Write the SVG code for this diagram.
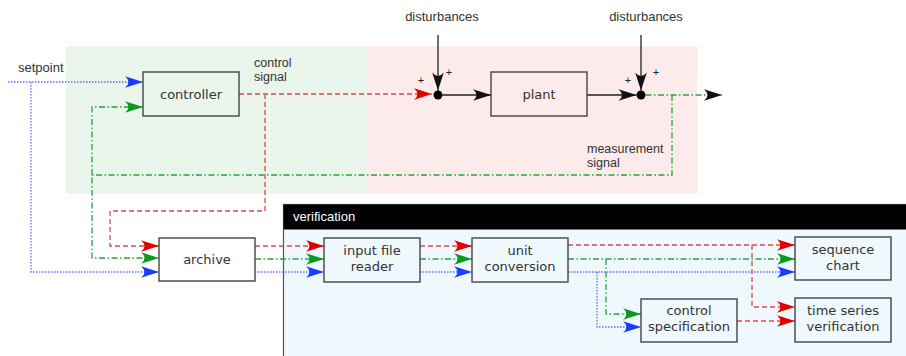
<svg xmlns="http://www.w3.org/2000/svg" width="906" height="356" viewBox="0 0 906 356">
<style>
.lbl{font-family:"Liberation Sans",Arial,sans-serif;font-size:13px;fill:#333}
.lb2{font-family:"Liberation Sans",Arial,sans-serif;font-size:12.5px;fill:#333}
.pl{font-family:"Liberation Sans",Arial,sans-serif;font-size:11px;fill:#222;text-anchor:middle}
.box{fill:none;stroke:#444;stroke-width:1.4}
.bt{font-family:"DejaVu Sans",sans-serif;font-size:13px;fill:#333;text-anchor:middle}
.red{fill:none;stroke:#e64545;stroke-width:1.3;stroke-dasharray:5,3}
.grn{fill:none;stroke:#1fa83c;stroke-width:1.3;stroke-dasharray:6,2.5,1.5,2.5}
.blu{fill:none;stroke:#5a6dff;stroke-width:1.3;stroke-dasharray:1.5,1.5}
.blk{fill:none;stroke:#222;stroke-width:1.3}
</style>
<defs>
<marker id="aR" viewBox="-19 -6 20 12" refX="0" refY="0" markerWidth="20" markerHeight="12" markerUnits="userSpaceOnUse" orient="auto"><path d="M0,0 L-18,-5.8 Q-11,0 -18,5.8 Z" fill="#e00000"/></marker>
<marker id="aG" viewBox="-19 -6 20 12" refX="0" refY="0" markerWidth="20" markerHeight="12" markerUnits="userSpaceOnUse" orient="auto"><path d="M0,0 L-18,-5.8 Q-11,0 -18,5.8 Z" fill="#0a9a1e"/></marker>
<marker id="aB" viewBox="-19 -6 20 12" refX="0" refY="0" markerWidth="20" markerHeight="12" markerUnits="userSpaceOnUse" orient="auto"><path d="M0,0 L-18,-5.8 Q-11,0 -18,5.8 Z" fill="#1a3cff"/></marker>
<marker id="aK" viewBox="-19 -6 20 12" refX="0" refY="0" markerWidth="20" markerHeight="12" markerUnits="userSpaceOnUse" orient="auto"><path d="M0,0 L-18,-5.8 Q-11,0 -18,5.8 Z" fill="#111"/></marker>
</defs>
<rect x="0" y="0" width="906" height="356" fill="#fff"/>
<rect x="66" y="46" width="302" height="148" fill="#eaf6ec"/>
<rect x="368" y="46" width="329" height="148" fill="#fdeaea"/>
<g id="verification">
<rect x="283.5" y="204.5" width="640" height="200" fill="#eef8fd" stroke="#555" stroke-width="1.2"/>
<rect x="283.5" y="204.5" width="640" height="25" fill="#000"/>
<text x="293" y="221" font-family="Liberation Sans,Arial,sans-serif" font-size="13" fill="#fff">verification</text>
</g>
<text class="lbl" x="18" y="72">setpoint</text>
<text class="lb2" x="254" y="67">control</text>
<text class="lb2" x="254" y="81">signal</text>
<text class="lb2" x="587" y="153">measurement</text>
<text class="lb2" x="587" y="167">signal</text>
<text class="lbl" x="442" y="21" text-anchor="middle">disturbances</text>
<text class="lbl" x="646" y="21" text-anchor="middle">disturbances</text>
<text class="pl" x="421" y="84">+</text><text class="pl" x="449" y="76">+</text>
<text class="pl" x="628" y="84">+</text><text class="pl" x="656" y="76">+</text>
<g id="connectors">
<path class="blu" d="M8,82 H143" marker-end="url(#aB)"/>
<path class="blu" d="M31,82 V272 H159" marker-end="url(#aB)"/>
<path class="red" d="M239,94 H432" marker-end="url(#aR)"/>
<path class="red" d="M265,94 V211 H110 V246 H159" marker-end="url(#aR)"/>
<path class="blk" d="M442.5,95 H491" marker-end="url(#aK)"/>
<path class="blk" d="M587,95 H636.5" marker-end="url(#aK)"/>
<path class="blk" d="M438,35 V90.5" marker-end="url(#aK)"/>
<path class="blk" d="M641,35 V90.5" marker-end="url(#aK)"/>
<path class="grn" d="M645.5,95 H722" marker-end="url(#aK)"/>
<path class="grn" d="M672,95 V175 H92 V258 H159" marker-end="url(#aG)"/>
<path class="grn" d="M92,175 V107 H143" marker-end="url(#aG)"/>
<path class="red" d="M255,246 H324" marker-end="url(#aR)"/>
<path class="grn" d="M255,259 H324" marker-end="url(#aG)"/>
<path class="blu" d="M255,272 H324" marker-end="url(#aB)"/>
<path class="red" d="M420,246 H472" marker-end="url(#aR)"/>
<path class="grn" d="M420,259 H472" marker-end="url(#aG)"/>
<path class="blu" d="M420,272 H472" marker-end="url(#aB)"/>
<path class="red" d="M568,245 H795" marker-end="url(#aR)"/>
<path class="grn" d="M568,259 H795" marker-end="url(#aG)"/>
<path class="blu" d="M568,272 H795" marker-end="url(#aB)"/>
<path class="red" d="M752,245 V307 H795" marker-end="url(#aR)"/>
<path class="grn" d="M606,259 V314 H641" marker-end="url(#aG)"/>
<path class="blu" d="M597,272 V327 H641" marker-end="url(#aB)"/>
<path class="red" d="M737,321 H795" marker-end="url(#aR)"/>
</g>
<g id="junction1"><circle cx="438" cy="95" r="4.5" fill="#000"/></g>
<g id="junction2"><circle cx="641" cy="95" r="4.5" fill="#000"/></g>
<g id="controller"><rect class="box" x="143" y="72" width="96" height="44"/><text class="bt" x="191" y="99">controller</text></g>
<g id="plant"><rect class="box" x="491" y="72" width="96" height="44"/><text class="bt" x="539" y="99">plant</text></g>
<g id="archive"><rect class="box" x="159" y="238" width="96" height="43"/><text class="bt" x="207" y="264">archive</text></g>
<g id="input-file-reader"><rect class="box" x="324" y="238" width="96" height="44"/><text class="bt" x="372" y="255">input file</text><text class="bt" x="372" y="271">reader</text></g>
<g id="unit-conversion"><rect class="box" x="472" y="238" width="96" height="44"/><text class="bt" x="520" y="255">unit</text><text class="bt" x="520" y="271">conversion</text></g>
<g id="sequence-chart"><rect class="box" x="795" y="237" width="96" height="43"/><text class="bt" x="843" y="254">sequence</text><text class="bt" x="843" y="270">chart</text></g>
<g id="control-specification"><rect class="box" x="641" y="299" width="96" height="43"/><text class="bt" x="689" y="315">control</text><text class="bt" x="689" y="331">specification</text></g>
<g id="time-series-verification"><rect class="box" x="795" y="298" width="96" height="44"/><text class="bt" x="843" y="315">time series</text><text class="bt" x="843" y="331">verification</text></g>
</svg>
